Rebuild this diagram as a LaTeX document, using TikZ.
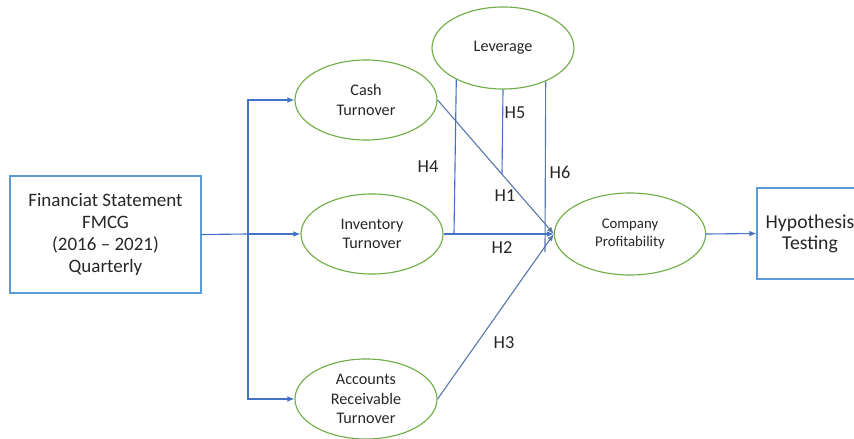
\documentclass[tikz,border=0pt]{standalone}
\usepackage{fontspec}
\setmainfont{Carlito}
\usetikzlibrary{shapes.geometric, arrows.meta}
\definecolor{lineblue}{HTML}{4472C4}
\definecolor{pathblue}{HTML}{5A78AE}
\definecolor{boxblue}{HTML}{5B9BD5}
\definecolor{ovalgreen}{HTML}{70AD47}
\definecolor{inkgrey}{HTML}{262626}

\begin{document}
\begin{tikzpicture}[x=0.025cm, y=-0.025cm,
    var/.style={ellipse, draw=ovalgreen, line width=0.8pt, minimum width=3.55cm, minimum height=2cm, inner sep=0pt, align=center, text=inkgrey, font=\fontsize{11.5}{14}\selectfont},
    frame/.style={rectangle, draw=boxblue, line width=0.8pt, align=center, text=inkgrey, font=\fontsize{13.5}{15.5}\selectfont},
    link/.style={draw=lineblue, line width=0.8pt},
    path/.style={draw=pathblue, line width=0.8pt},
    flow/.style={link, -{Latex[length=5pt, width=4pt]}},
    hlabel/.style={text=inkgrey, font=\fontsize{13}{15}\selectfont}]
    \useasboundingbox (0,0) rectangle (854,439);

    % Define the boxes and the variables
    \node[frame, minimum width=4.775cm, minimum height=2.925cm] (data) at (105.5,234.5) {Financiat Statement\\FMCG\\(2016 -- 2021)\\Quarterly};
    \node[var] (cash) at (366,100) {Cash\\Turnover};
    \node[var] (inv) at (372,234) {Inventory\\Turnover};
    \node[var] (recv) at (366,399) {Accounts\\Receivable\\Turnover};
    \node[var, minimum height=2.05cm] (lev) at (503,48) {Leverage};
    \node[var, minimum width=3.78cm, minimum height=2.05cm, font=\fontsize{10.5}{12.8}\selectfont] (prof) at (630,234) {Company\\Profitability};
    \node[frame, minimum width=2.65cm, minimum height=2.275cm, font=\fontsize{14}{15}\selectfont] (test) at (810,233.5) {Hypothesis\\Testing};

    % Define coordinates for the branch and the moderation lines
    \coordinate (split) at (248,234);
    \coordinate (mod4) at (454,234);
    \coordinate (mod5) at (502,174);
    \coordinate (mod6) at (545,252);

    % Draw the data flow
    \draw[link] (data.east) -- (split);
    \draw[flow] (split) -- (inv.west);
    \draw[flow] (split) |- (cash.west);
    \draw[flow] (split) |- (recv.west);

    % Draw the hypotheses
    \draw[flow, draw=pathblue] (cash.east) -- (prof.west);
    \draw[flow] (inv.east) -- (prof.west);
    \draw[flow, draw=pathblue] (recv.east) -- (prof.west);
    \draw[link] (lev.214) -- (mod4); % moderation H4
    \draw[link] (lev.south) -- (mod5); % moderation H5
    \draw[path] (lev.-38) -- (mod6); % moderation H6
    \draw[flow] (prof.east) -- (test.west);

    % Labels
    \node[hlabel] (h1) at (505,196) {H1};
    \node[hlabel] (h2) at (502,248) {H2};
    \node[hlabel] (h3) at (504,343) {H3};
    \node[hlabel] (h4) at (428,167) {H4};
    \node[hlabel] (h5) at (515,113) {H5};
    \node[hlabel] (h6) at (560,172) {H6};
\end{tikzpicture}
\end{document}
